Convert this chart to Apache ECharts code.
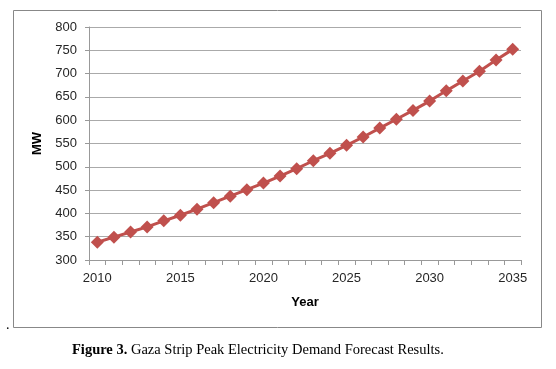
<!DOCTYPE html>
<html><head><meta charset="utf-8">
<script src="https://cdn.jsdelivr.net/npm/echarts@6/dist/echarts.min.js"></script>
<style>html,body{margin:0;padding:0;background:#fff}#c{width:556px;height:369px}</style>
</head><body><div id="c"></div>
<script>
const years = ["2010","2011","2012","2013","2014","2015","2016","2017","2018","2019","2020","2021","2022","2023","2024","2025","2026","2027","2028","2029","2030","2031","2032","2033","2034","2035"];
const peakMW = [338,349,360,371,384,396,409,423,437,451,465,480,496,513,529,546,564,583,602,621,641,663,684,705,729,752];
const yTicks = {min:300, max:800, step:50};
const captionBold = "Figure 3.";
const captionText = " Gaza Strip Peak Electricity Demand Forecast Results.";

const chart = echarts.init(document.getElementById('c'), null, {renderer:'canvas'});
const axisFont = {fontFamily:'Liberation Sans, Arial, sans-serif', fontSize:13, color:'#262626'};
chart.setOption({
  animation:false,
  backgroundColor:'#fff',
  grid:{left:89, right:35, top:27, bottom:109},
  xAxis:{
    type:'category', data:years, boundaryGap:true,
    name:'Year', nameLocation:'middle', nameGap:36,
    nameTextStyle:{fontFamily:'Liberation Sans, Arial, sans-serif', fontSize:13, fontWeight:'bold', color:'#000'},
    axisLine:{lineStyle:{color:'#999', width:1}},
    axisTick:{show:true, interval:0, length:5, lineStyle:{color:'#999'}},
    axisLabel:Object.assign({interval:4, margin:12}, axisFont),
    splitLine:{show:false}
  },
  yAxis:{
    type:'value', min:yTicks.min, max:yTicks.max, interval:yTicks.step,
    name:'MW', nameLocation:'middle', nameGap:42, nameRotate:90,
    nameTextStyle:{fontFamily:'Liberation Sans, Arial, sans-serif', fontSize:13, fontWeight:'bold', color:'#000'},
    axisLine:{show:true, lineStyle:{color:'#999', width:1}},
    axisTick:{show:true, length:4, lineStyle:{color:'#999'}},
    axisLabel:Object.assign({margin:12}, axisFont),
    splitLine:{lineStyle:{color:'#aaa', width:1}}
  },
  series:[{
    type:'line', data:peakMW,
    symbol:'diamond', symbolSize:13, showAllSymbol:true,
    lineStyle:{color:'#C0504D', width:3},
    itemStyle:{color:'#C0504D'}
  }],
  graphic:[
    {type:'rect', shape:{x:13.5, y:10.5, width:528, height:317}, style:{fill:'none', stroke:'#888', lineWidth:1}, silent:true, z:-1},
    {type:'text', left:6, top:318, style:{text:'.', font:'14px "Liberation Serif", serif', fill:'#000'}},
    {type:'text', left:72, top:343, style:{
      text:'{b|'+captionBold+'}{n|'+captionText+'}',
      rich:{
        b:{font:'bold 14.5px "Liberation Serif", "Times New Roman", serif', fill:'#000'},
        n:{font:'14.5px "Liberation Serif", "Times New Roman", serif', fill:'#000'}
      }
    }}
  ]
});
</script></body></html>
